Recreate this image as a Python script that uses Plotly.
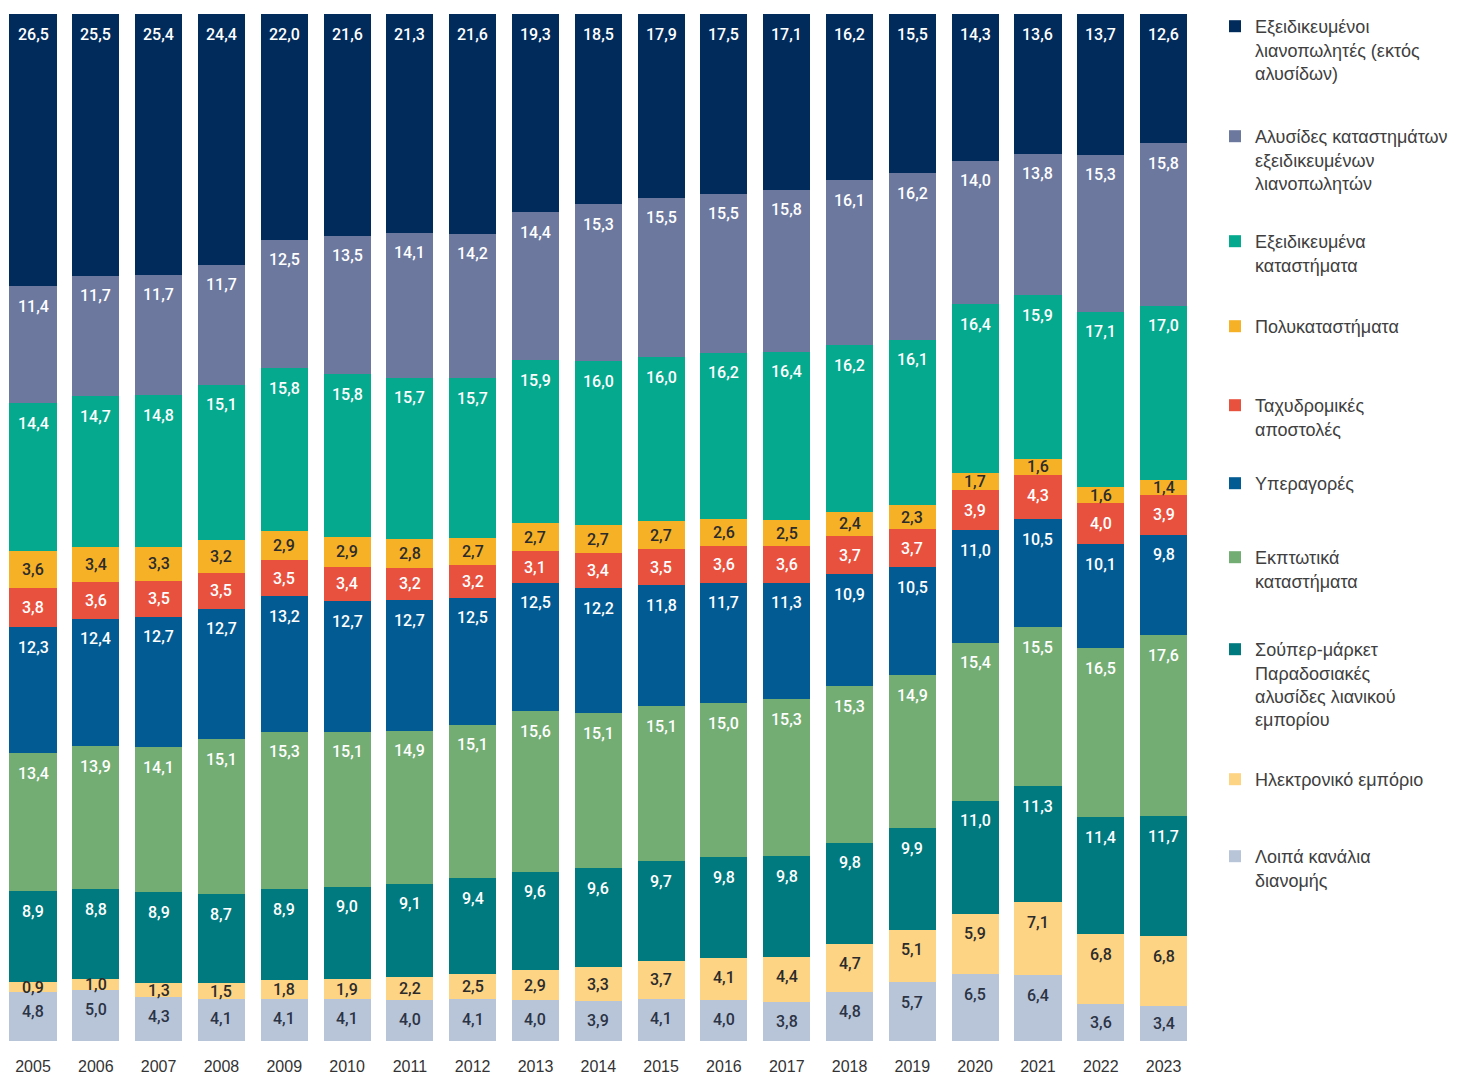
import plotly.graph_objects as go

# ---- data -------------------------------------------------------------
years = [str(y) for y in range(2005, 2024)]

# series listed bottom of the stack first
other_channels = [4.8, 5.0, 4.3, 4.1, 4.1, 4.1, 4.0, 4.1, 4.0, 3.9, 4.1, 4.0, 3.8, 4.8, 5.7, 6.5, 6.4, 3.6, 3.4]
e_commerce = [0.9, 1.0, 1.3, 1.5, 1.8, 1.9, 2.2, 2.5, 2.9, 3.3, 3.7, 4.1, 4.4, 4.7, 5.1, 5.9, 7.1, 6.8, 6.8]
supermarkets = [8.9, 8.8, 8.9, 8.7, 8.9, 9.0, 9.1, 9.4, 9.6, 9.6, 9.7, 9.8, 9.8, 9.8, 9.9, 11.0, 11.3, 11.4, 11.7]
discount_stores = [13.4, 13.9, 14.1, 15.1, 15.3, 15.1, 14.9, 15.1, 15.6, 15.1, 15.1, 15.0, 15.3, 15.3, 14.9, 15.4, 15.5, 16.5, 17.6]
hypermarkets = [12.3, 12.4, 12.7, 12.7, 13.2, 12.7, 12.7, 12.5, 12.5, 12.2, 11.8, 11.7, 11.3, 10.9, 10.5, 11.0, 10.5, 10.1, 9.8]
mail_order = [3.8, 3.6, 3.5, 3.5, 3.5, 3.4, 3.2, 3.2, 3.1, 3.4, 3.5, 3.6, 3.6, 3.7, 3.7, 3.9, 4.3, 4.0, 3.9]
department_stores = [3.6, 3.4, 3.3, 3.2, 2.9, 2.9, 2.8, 2.7, 2.7, 2.7, 2.7, 2.6, 2.5, 2.4, 2.3, 1.7, 1.6, 1.6, 1.4]
specialist_stores = [14.4, 14.7, 14.8, 15.1, 15.8, 15.8, 15.7, 15.7, 15.9, 16.0, 16.0, 16.2, 16.4, 16.2, 16.1, 16.4, 15.9, 17.1, 17.0]
specialist_chains = [11.4, 11.7, 11.7, 11.7, 12.5, 13.5, 14.1, 14.2, 14.4, 15.3, 15.5, 15.5, 15.8, 16.1, 16.2, 14.0, 13.8, 15.3, 15.8]
specialist_indep = [26.5, 25.5, 25.4, 24.4, 22.0, 21.6, 21.3, 21.6, 19.3, 18.5, 17.9, 17.5, 17.1, 16.2, 15.5, 14.3, 13.6, 13.7, 12.6]

series = [
    ("Λοιπά κανάλια<br>διανομής", other_channels, "#b8c5d9", "#2b3344"),
    ("Ηλεκτρονικό εμπόριο", e_commerce, "#fdd384", "#2b2b2b"),
    ("Σούπερ-μάρκετ<br>Παραδοσιακές<br>αλυσίδες λιανικού<br>εμπορίου", supermarkets, "#007a7f", "white"),
    ("Εκπτωτικά<br>καταστήματα", discount_stores, "#74ad74", "white"),
    ("Υπεραγορές", hypermarkets, "#035b94", "white"),
    ("Ταχυδρομικές<br>αποστολές", mail_order, "#e9513f", "white"),
    ("Πολυκαταστήματα", department_stores, "#f6b127", "#2b2b2b"),
    ("Εξειδικευμένα<br>καταστήματα", specialist_stores, "#05a98e", "white"),
    ("Αλυσίδες καταστημάτων<br>εξειδικευμένων<br>λιανοπωλητών", specialist_chains, "#6c789e", "white"),
    ("Εξειδικευμένοι<br>λιανοπωλητές (εκτός<br>αλυσίδων)", specialist_indep, "#012b5b", "white"),
]

# y (px from page top) of each legend entry's first line, top of stack first
legend_rows = [24, 137, 242, 327, 406, 484, 558, 650, 780, 857]

# the page body adds an 8px margin around the figure
W, H = 1457, 1075
M = dict(l=0, r=270, t=6, b=42)
plot_h = H - M["t"] - M["b"]

totals = [sum(s[1][j] for s in series) for j in range(len(years))]

fig = go.Figure()
annotations = []
base = [0.0] * len(years)
n = len(series)
for i, (name, vals, color, txt_color) in enumerate(series):
    fig.add_trace(go.Bar(
        x=years, y=vals, name=name, marker_color=color,
        marker_line_width=0, legend=f"legend{n - i + 1}", hoverinfo="skip",
    ))
    for j, v in enumerate(vals):
        share = v / totals[j] * 100
        top = base[j] + share
        h_px = share * plot_h / 100
        # x as category index (serial number) on the category axis
        annotations.append(dict(
            x=j, y=round(top, 6), xref="x", yref="y",
            text=f"{v:.1f}".replace(".", ","), showarrow=False,
            yanchor="middle", yshift=-min(20, h_px / 2),
            font=dict(family="Roboto", size=16, weight=500, color=txt_color),
        ))
        base[j] = top

legends = {}
for k, row in enumerate(legend_rows):
    legends[f"legend{k + 2}"] = dict(
        xref="container", yref="container",
        x=1207 / W, y=min(1, 1 - (row - 27) / H), xanchor="left", yanchor="top",
        valign="top", bgcolor="rgba(0,0,0,0)",
        font=dict(family="Liberation Sans, Arial", size=18, color="#404040"),
    )

fig.update_layout(
    width=W, height=H, margin=M,
    barmode="stack", barnorm="percent", bargap=0.25,
    paper_bgcolor="white", plot_bgcolor="white",
    annotations=annotations,
    xaxis=dict(type="category", range=[-0.398, len(years) - 0.5],
               showgrid=False, showline=False, ticks="", ticklabelstandoff=14,
               tickfont=dict(family="Liberation Sans, Arial", size=16, color="#333333")),
    yaxis=dict(visible=False, range=[0, 100]),
    **legends,
)

fig.write_html("out.html")
